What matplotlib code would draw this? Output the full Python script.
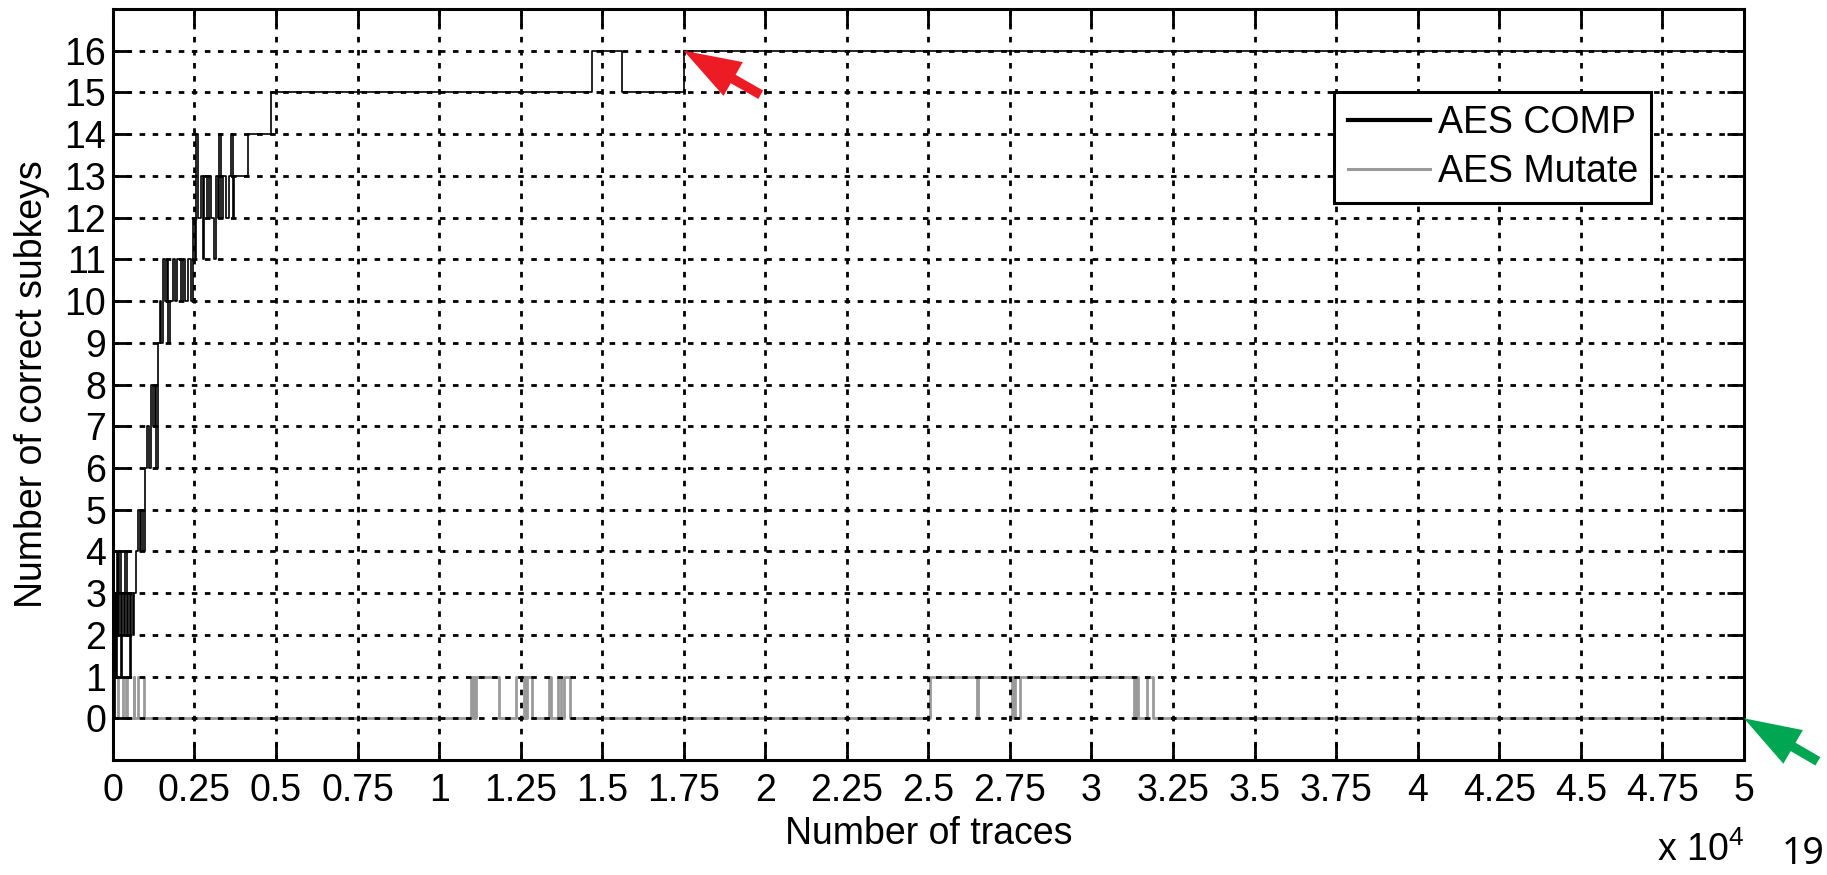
import matplotlib.pyplot as plt
from matplotlib.ticker import FuncFormatter

# Datos: número de trazas y subclaves correctas (escalones)
comp_x = [0, 60, 90, 120, 160, 200, 250, 290, 340, 380, 430, 470, 520, 560, 610, 660,
          720, 770, 820, 870, 920, 975, 1030, 1100, 1180, 1230, 1280, 1330, 1380, 1430,
          1480, 1540, 1600, 1650, 1700, 1760, 1840, 1900, 1980, 2090, 2150, 2220, 2300,
          2400, 2450, 2520, 2560, 2620, 2700, 2760, 2800, 2880, 2950, 3020, 3100, 3160,
          3220, 3260, 3320, 3380, 3470, 3560, 3620, 3680, 3720, 4130, 4860, 14700, 15620,
          17500, 50000]
comp_y = [0, 3, 1, 4, 2, 4, 1, 3, 2, 4, 2, 3, 1, 3, 2, 3,
          4, 5, 4, 5, 4, 6, 7, 6, 8, 7, 8, 6, 9, 10,
          9, 11, 10, 11, 9, 10, 11, 10, 11, 10, 11, 10, 11,
          10, 12, 11, 14, 12, 13, 11, 13, 12, 13, 12, 11, 13,
          12, 14, 12, 13, 12, 13, 14, 12, 13, 14, 15, 16, 15,
          16, 16]

mut_x = [0, 170, 300, 400, 420, 640, 660, 780, 940, 10990, 11030, 11060, 11100, 11130,
         11830, 12360, 12600, 12630, 12670, 12700, 12850, 13360, 13440, 13660, 13730,
         13840, 14010, 25050, 26480, 26520, 27550, 27600, 27650, 27800, 31300, 31350,
         31420, 31700, 31880, 50000]
mut_y = [0, 1, 0, 1, 0, 1, 0, 1, 0, 1, 0, 1, 0, 1,
         0, 1, 0, 1, 0, 1, 0, 1, 0, 1, 0,
         1, 0, 1, 0, 1, 0, 1, 0, 1, 0, 1,
         0, 1, 0, 0]

series_names = ['AES COMP', 'AES Mutate']
x_ticks = [0, 2500, 5000, 7500, 10000, 12500, 15000, 17500, 20000, 22500, 25000,
           27500, 30000, 32500, 35000, 37500, 40000, 42500, 45000, 47500, 50000]
y_ticks = list(range(17))

plt.rcParams['font.family'] = 'Liberation Sans'
plt.rcParams['mathtext.fontset'] = 'custom'
plt.rcParams['mathtext.rm'] = 'Liberation Sans'
plt.rcParams['mathtext.it'] = 'Liberation Sans:italic'

fig = plt.figure(figsize=(18.27, 8.75), dpi=100)
ax = fig.add_axes([0.0618, 0.1314, 0.8927, 0.8583])

# Curvas en escalones
ax.plot(comp_x, comp_y, drawstyle='steps-post', color='black', linewidth=1.2,
        label=series_names[0])
ax.plot(mut_x, mut_y, drawstyle='steps-post', color='#9a9a9a', linewidth=2.0,
        label=series_names[1])

ax.set_xlim(0, 50000)
ax.set_ylim(-1, 17)
ax.set_xticks(x_ticks)
ax.set_yticks(y_ticks)
ax.xaxis.set_major_formatter(FuncFormatter(lambda v, p: f'{v / 1e4:g}'))

# Estilo tipo MATLAB: marcas hacia dentro en los cuatro lados
ax.tick_params(direction='in', top=True, right=True, length=12, width=2, labelsize=27)
ax.tick_params(axis='x', pad=9.5)
ax.tick_params(axis='y', pad=5)
for s in ax.spines.values():
    s.set_linewidth(2.2)

ax.set_axisbelow(False)
ax.grid(True, color='black', linestyle=(0, (2, 2.7)), linewidth=2)

ax.set_xlabel('Number of traces', fontsize=27)
ax.xaxis.set_label_coords(0.5, -0.0746)
ax.set_ylabel('Number of correct subkeys', fontsize=27)
ax.yaxis.set_label_coords(-0.0386, 0.5)

ax.text(1.0, -0.1345, r'x 10$^4$', transform=ax.transAxes, ha='right',
        va='baseline', fontsize=27)

# Leyenda
leg = ax.legend(loc='upper right', bbox_to_anchor=(0.943, 0.8895), borderaxespad=0,
                fontsize=27, fancybox=False, framealpha=1, edgecolor='black',
                borderpad=0.35, handlelength=2.2, handletextpad=0.2, labelspacing=0.34)
leg.get_frame().set_linewidth(2.2)
for line, w in zip(leg.get_lines(), [3, 2.2]):
    line.set_linewidth(w)

# Flechas de la diapositiva
arrow_style = 'simple,head_length=41,head_width=28,tail_width=7'
ax.annotate('', xy=(17500, 16), xytext=(77, -44), textcoords='offset pixels',
            arrowprops=dict(arrowstyle=arrow_style, mutation_scale=1, fc='#ed1c24',
                            ec='none', shrinkA=0, shrinkB=0),
            annotation_clip=False)
ax.annotate('', xy=(50000, 0), xytext=(74, -43), textcoords='offset pixels',
            arrowprops=dict(arrowstyle=arrow_style, mutation_scale=1, fc='#00a651',
                            ec='none', shrinkA=0, shrinkB=0),
            annotation_clip=False)

# Número de página
fig.text(0.9985, 0.002, '19', fontsize=27, family='Noto Sans', ha='right',
         va='bottom')

plt.savefig('out.png', dpi=100)
